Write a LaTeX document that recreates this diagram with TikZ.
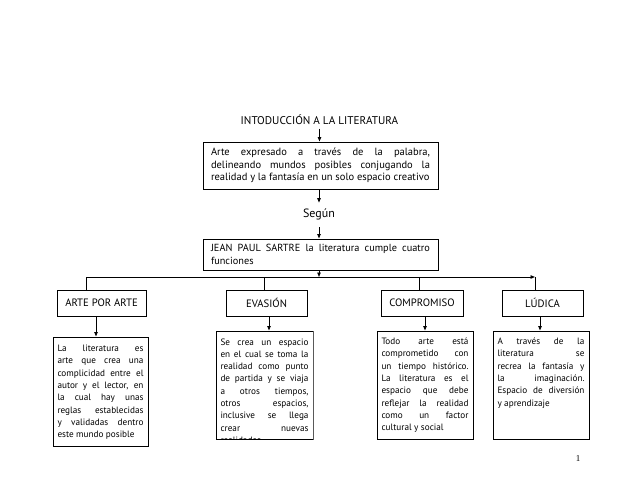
\documentclass[tikz,border=0pt]{standalone}
\usepackage{fontspec}
\setmainfont{PT Sans}
\newfontfamily\pagefont{Liberation Serif}
\usepackage{tikz}
\usetikzlibrary{arrows.meta}

\newcommand{\cuadro}[4]{\parbox[c][#2][t]{#1}{\hyphenpenalty=10000\rule{0pt}{#3}#4}}

\begin{document}
\begin{tikzpicture}[x=1pt, y=-1pt, line width=0.9pt, >={Triangle[length=4.5pt,width=3.5pt]}]
        \tikzset{caja/.style={draw, line width=1pt, inner sep=0pt},
                 texto/.style={font=\fontsize{9.2}{12.3}\selectfont},
                 funcion/.style={caja, minimum height=26pt, font=\fontsize{10.7}{12}\selectfont}}
        \useasboundingbox (0,0) rectangle (638,493);

        % encabezado
        \node[font=\fontsize{11.2}{12}\selectfont] (titulo) at (319.5,120) {INTODUCCIÓN A LA LITERATURA};
        \node[caja, text width=219pt, inner xsep=8pt, minimum height=47pt, align=justify, font=\fontsize{10.5}{12.5}\selectfont] (arte) at (320.5,165.5)
            {Arte expresado a través de la palabra,\linebreak delineando mundos posibles conjugando la\linebreak realidad y la fantasía en un solo espacio creativo};
        \node[font=\fontsize{12}{13}\selectfont] (segun) at (319,214) {Según};
        \node[caja, text width=219pt, inner xsep=8pt, minimum height=31pt, align=justify, font=\fontsize{10.3}{13.5}\selectfont] (sartre) at (320.5,254.5)
            {JEAN PAUL SARTRE la literatura cumple cuatro\linebreak funciones};

        % las cuatro funciones
        \node[funcion, minimum width=89pt] (porarte) at (101.5,303) {ARTE POR ARTE};
        \node[funcion, minimum width=81pt] (evasion) at (266.5,303) {EVASIÓN};
        \node[funcion, minimum width=82pt] (compromiso) at (422,303) {COMPROMISO};
        \node[funcion, minimum width=81pt] (ludica) at (542.5,303) {LÚDICA};

        \node[caja, texto, inner xsep=4.5pt] (tporarte) at (100.5,391.5)
            {\cuadro{86pt}{109pt}{14.5pt}{La literatura es\linebreak arte que crea una\linebreak complicidad entre el\linebreak autor y el lector, en\linebreak la cual hay unas\linebreak reglas establecidas\linebreak y validadas dentro\linebreak este mundo posible}};
        \begin{scope}
            \clip (215.5,330.5) rectangle (313.5,439.5);
            \node[caja, texto, inner xsep=4.5pt] (tevasion) at (264.5,385)
                {\cuadro{88pt}{108pt}{14pt}{Se crea un espacio\linebreak en el cual se toma la\linebreak realidad como punto\linebreak de partida y se viaja\linebreak a otros tiempos,\linebreak otros espacios,\linebreak inclusive se llega\linebreak crear nuevas\linebreak realidades}};
        \end{scope}
        \node[caja, texto, inner xsep=4.5pt] (tcompromiso) at (425,385)
            {\cuadro{87pt}{108pt}{13.5pt}{Todo arte está\linebreak comprometido con\linebreak un tiempo histórico.\linebreak La literatura es el\linebreak espacio que debe\linebreak reflejar la realidad\linebreak como un factor\linebreak cultural y social}};
        \node[caja, texto, inner xsep=4.5pt] (tludica) at (541,385)
            {\cuadro{87pt}{108pt}{13.5pt}{A través de la\linebreak literatura se\linebreak recrea la fantasía y\linebreak la imaginación.\linebreak Espacio de diversión\linebreak y aprendizaje}};

        \node[font=\pagefont\fontsize{9}{10}\selectfont] (pagina) at (578,459) {1};

        % flechas
        \draw[->] (titulo.south) -- (titulo.south |- arte.north);
        \draw[->, shorten >=2pt] (arte.south -| segun) -- (segun.north);
        \draw[->, shorten <=4pt] (segun.south) -- (segun.south |- sartre.north);

        \coordinate (bus) at (319,277);
        \coordinate (b1) at (86,277);
        \coordinate (b2) at (264,277);
        \coordinate (b3) at (419,277);
        \coordinate (b4) at (535,277);
        \draw[->] (sartre.south -| bus) -- (bus);
        \draw[->] (b1) -- (b4);
        \draw (b1) -- (b1 |- porarte.north);
        \draw (b2) -- (b2 |- evasion.north);
        \draw (b3) -- (b3 |- compromiso.north);
        \draw (b4) -- (b4 |- ludica.north);

        \draw[->] ([xshift=-5.5pt]porarte.south) -- ([xshift=-5.5pt]porarte.south |- tporarte.north);
        \draw[->] ([xshift=2.5pt]evasion.south) -- ([xshift=2.5pt]evasion.south |- tevasion.north);
        \draw[->] ([xshift=3pt]compromiso.south) -- ([xshift=3pt]compromiso.south |- tcompromiso.north);
        \draw[->] ([xshift=-2.5pt]ludica.south) -- ([xshift=-2.5pt]ludica.south |- tludica.north);
    \end{tikzpicture}
\end{document}
